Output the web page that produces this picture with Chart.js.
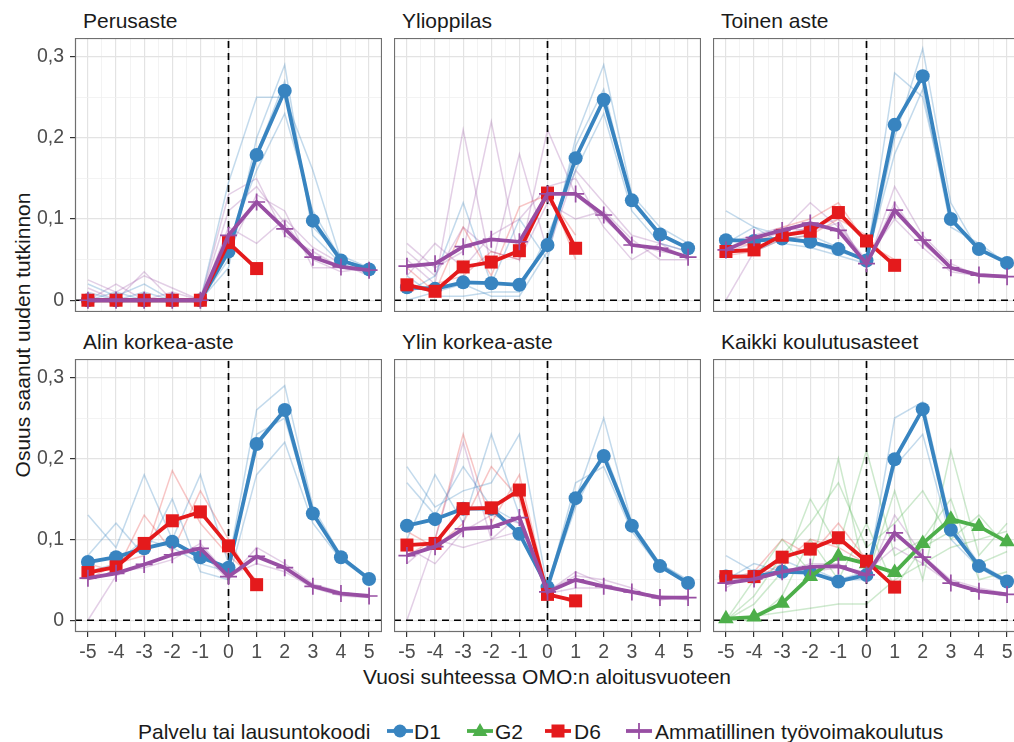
<!DOCTYPE html>
<html>
<head>
<meta charset="utf-8">
<script src="https://cdn.jsdelivr.net/npm/chart.js@4.4.0/dist/chart.umd.min.js"></script>
<style>
body { margin:0; width:1014px; height:742px; overflow:hidden; background:#fff; position:relative;
       font-family:"Liberation Sans", Arial, sans-serif; }
canvas { position:absolute; }
.t { position:absolute; line-height:1; white-space:nowrap; color:#1a1a1a; }
.strip { font-size:21px; }
.leg { font-size:21px; transform:translateY(-50%); }
svg { position:absolute; }
</style>
</head>
<body>
<div class="t strip" style="left:83px;top:10px">Perusaste</div>
<div class="t strip" style="left:402px;top:10px">Ylioppilas</div>
<div class="t strip" style="left:721px;top:10px">Toinen aste</div>
<div class="t strip" style="left:83px;top:331px">Alin korkea-aste</div>
<div class="t strip" style="left:402px;top:331px">Ylin korkea-aste</div>
<div class="t strip" style="left:721px;top:331px">Kaikki koulutusasteet</div>
<div class="t" style="font-size:21px;left:22px;top:335px;transform:translate(-50%,-50%) rotate(-90deg)">Osuus saanut uuden tutkinnon</div>
<div class="t" style="font-size:21px;left:547px;top:676px;transform:translate(-50%,-50%)">Vuosi suhteessa OMO:n aloitusvuoteen</div>

<div class="t leg" style="left:138px;top:731px">Palvelu tai lausuntokoodi</div>
<svg style="left:386px;top:721px" width="28" height="20"><line x1="1" y1="10" x2="27" y2="10" stroke="#3884C0" stroke-width="3.8"/><circle cx="14" cy="10" r="6.5" fill="#3884C0"/></svg>
<div class="t leg" style="left:414px;top:731px">D1</div>
<svg style="left:466px;top:721px" width="28" height="20"><line x1="1" y1="10" x2="27" y2="10" stroke="#4DAF4A" stroke-width="3.8"/><polygon points="14,2 21.5,15 6.5,15" fill="#4DAF4A"/></svg>
<div class="t leg" style="left:495px;top:731px">G2</div>
<svg style="left:544px;top:721px" width="28" height="20"><line x1="1" y1="10" x2="27" y2="10" stroke="#E41A1C" stroke-width="3.8"/><rect x="7.5" y="3.5" width="13" height="13" fill="#E41A1C"/></svg>
<div class="t leg" style="left:574px;top:731px">D6</div>
<svg style="left:625px;top:721px" width="28" height="20"><line x1="1" y1="10" x2="27" y2="10" stroke="#984EA3" stroke-width="3.8"/><line x1="6" y1="10" x2="22" y2="10" stroke="#984EA3" stroke-width="1.8"/><line x1="14" y1="2" x2="14" y2="18" stroke="#984EA3" stroke-width="1.8"/></svg>
<div class="t leg" style="left:655px;top:731px">Ammatillinen työvoimakoulutus</div>

<script>
// vuodet suhteessa aloitusvuoteen
const years = [-5, -4, -3, -2, -1, 0, 1, 2, 3, 4, 5];
const xGrid = [-5, -4.5, -4, -3.5, -3, -2.5, -2, -1.5, -1, -0.5, 0, 0.5, 1, 1.5, 2, 2.5, 3, 3.5, 4, 4.5, 5];
const xMajor = [-5, -4, -3, -2, -1, 0, 1, 2, 3, 4, 5];
const xLabels = ['-5', '-4', '-3', '-2', '-1', '0', '1', '2', '3', '4', '5'];
const yGrid = [0, 0.05, 0.1, 0.15, 0.2, 0.25, 0.3];
const yMajor = [0, 0.1, 0.2, 0.3];
const yLabels = ['0', '0,1', '0,2', '0,3'];

// Perusaste
const perusD1 = [0, 0, 0, 0, 0, 0.060, 0.179, 0.258, 0.098, 0.049, 0.038];
const perusD6 = [0, 0, 0, 0, 0, 0.071, 0.039];
const perusAmm = [0, 0, 0, 0, 0, 0.080, 0.121, 0.088, 0.053, 0.041, 0.037];
const perusD1Faint = [
  [0.02, 0.005, 0.02, 0, 0, 0.145, 0.25, 0.25, 0.16, 0.05, 0.04],
  [0.01, 0, 0.01, 0, 0, 0.04, 0.2, 0.29, 0.08, 0.045, 0.035],
  [0, 0, 0, 0, 0, 0.07, 0.16, 0.23, 0.11, 0.05, 0.04],
  [0, 0.01, 0, 0, 0, 0.05, 0.18, 0.27, 0.09, 0.055, 0.04]
];
const perusAmmFaint = [
  [0.025, 0.01, 0.03, 0.015, 0, 0.13, 0.15, 0.08, 0.06, 0.04, 0.035],
  [0.015, 0, 0.035, 0, 0, 0.09, 0.07, 0.1, 0.065, 0.045, 0.03],
  [0, 0.02, 0, 0.01, 0, 0.11, 0.14, 0.095, 0.05, 0.035, 0.04],
  [0, 0, 0, 0, 0, 0.06, 0.13, 0.11, 0.04, 0.04, 0.035]
];

// Ylioppilas
const yliopD1 = [0.016, 0.014, 0.022, 0.021, 0.019, 0.068, 0.175, 0.247, 0.123, 0.081, 0.064];
const yliopD6 = [0.019, 0.011, 0.041, 0.047, 0.061, 0.132, 0.064];
const yliopAmm = [0.042, 0.045, 0.066, 0.075, 0.072, 0.131, 0.131, 0.105, 0.068, 0.064, 0.053];
const yliopD1Faint = [
  [0.01, 0.03, 0.12, 0.02, 0.1, 0.05, 0.2, 0.29, 0.13, 0.09, 0.07],
  [0.03, 0.005, 0.005, 0.01, 0.01, 0.08, 0.16, 0.23, 0.11, 0.07, 0.06],
  [0, 0.01, 0.02, 0.005, 0.005, 0.06, 0.19, 0.26, 0.12, 0.08, 0.065]
];
const yliopD6Faint = [
  [0.04, 0.01, 0.09, 0.03, 0.115, 0.13, 0.08],
  [0.01, 0.02, 0.03, 0.06, 0.05, 0.14, 0.05]
];
const yliopAmmFaint = [
  [0.05, 0.02, 0.21, 0.04, 0.18, 0.06, 0.16, 0.12, 0.08, 0.07, 0.05],
  [0.07, 0.04, 0.06, 0.22, 0.05, 0.21, 0.13, 0.1, 0.07, 0.06, 0.055],
  [0.03, 0.07, 0.04, 0.08, 0.1, 0.14, 0.15, 0.09, 0.05, 0.07, 0.06],
  [0.06, 0.03, 0.09, 0.06, 0.05, 0.12, 0.1, 0.11, 0.075, 0.05, 0.05]
];

// Toinen aste
const toinenD1 = [0.074, 0.073, 0.076, 0.072, 0.063, 0.049, 0.216, 0.276, 0.100, 0.063, 0.046];
const toinenD6 = [0.060, 0.062, 0.080, 0.085, 0.108, 0.073, 0.043];
const toinenAmm = [0.062, 0.077, 0.086, 0.095, 0.086, 0.045, 0.111, 0.074, 0.040, 0.031, 0.029];
const toinenD1Faint = [
  [0.11, 0.09, 0.08, 0.07, 0.06, 0.05, 0.28, 0.25, 0.1, 0.065, 0.045],
  [0.07, 0.09, 0.07, 0.065, 0.055, 0.045, 0.2, 0.31, 0.12, 0.06, 0.05],
  [0.06, 0.06, 0.075, 0.08, 0.065, 0.05, 0.18, 0.26, 0.09, 0.07, 0.045]
];
const toinenD6Faint = [
  [0.065, 0.07, 0.09, 0.1, 0.12, 0.07, 0.05],
  [0.055, 0.06, 0.075, 0.08, 0.1, 0.08, 0.04]
];
const toinenAmmFaint = [
  [0, 0.06, 0.08, 0.09, 0.1, 0.04, 0.14, 0.08, 0.045, 0.03, 0.03],
  [0.06, 0.07, 0.085, 0.12, 0.09, 0.05, 0.1, 0.065, 0.035, 0.03, 0.028],
  [0.07, 0.08, 0.09, 0.085, 0.095, 0.045, 0.12, 0.07, 0.04, 0.033, 0.03]
];

// Alin korkea-aste
const alinD1 = [0.072, 0.078, 0.089, 0.097, 0.078, 0.065, 0.218, 0.260, 0.132, 0.078, 0.051];
const alinD6 = [0.059, 0.066, 0.095, 0.123, 0.134, 0.092, 0.044];
const alinAmm = [0.052, 0.058, 0.069, 0.081, 0.089, 0.054, 0.079, 0.065, 0.042, 0.033, 0.030];
const alinD1Faint = [
  [0.13, 0.09, 0.18, 0.1, 0.18, 0.07, 0.26, 0.29, 0.14, 0.08, 0.05],
  [0.08, 0.12, 0.08, 0.15, 0.06, 0.05, 0.18, 0.22, 0.12, 0.075, 0.05],
  [0.06, 0.07, 0.1, 0.09, 0.07, 0.06, 0.23, 0.25, 0.13, 0.08, 0.05]
];
const alinD6Faint = [
  [0.07, 0.06, 0.13, 0.085, 0.16, 0.1, 0.04],
  [0.05, 0.07, 0.08, 0.185, 0.12, 0.08, 0.05]
];
const alinAmmFaint = [
  [0, 0.055, 0.07, 0.08, 0.085, 0.05, 0.09, 0.07, 0.045, 0.035, 0.03],
  [0.05, 0.06, 0.065, 0.075, 0.095, 0.055, 0.07, 0.06, 0.04, 0.03, 0.028]
];

// Ylin korkea-aste
const ylinD1 = [0.117, 0.125, 0.138, 0.138, 0.107, 0.041, 0.151, 0.203, 0.117, 0.067, 0.046];
const ylinD6 = [0.093, 0.095, 0.138, 0.139, 0.161, 0.032, 0.024];
const ylinAmm = [0.080, 0.091, 0.113, 0.115, 0.127, 0.035, 0.050, 0.042, 0.035, 0.028, 0.028];
const ylinD1Faint = [
  [0.19, 0.14, 0.16, 0.17, 0.23, 0.04, 0.15, 0.25, 0.12, 0.07, 0.05],
  [0.17, 0.13, 0.19, 0.14, 0.12, 0.04, 0.17, 0.19, 0.11, 0.065, 0.045],
  [0.1, 0.18, 0.12, 0.23, 0.13, 0.04, 0.14, 0.21, 0.12, 0.07, 0.048]
];
const ylinD6Faint = [
  [0.08, 0.1, 0.23, 0.12, 0.18, 0.035, 0.02],
  [0.11, 0.09, 0.12, 0.19, 0.15, 0.03, 0.025]
];
const ylinAmmFaint = [
  [0, 0.1, 0.22, 0.1, 0.13, 0.035, 0.06, 0.045, 0.035, 0.03, 0.028],
  [0.09, 0.07, 0.11, 0.13, 0.12, 0.033, 0.04, 0.04, 0.035, 0.03, 0.025],
  [0.07, 0.1, 0.09, 0.1, 0.11, 0.036, 0.055, 0.05, 0.04, 0.025, 0.03]
];

// Kaikki koulutusasteet
const kaikkiD1 = [0.054, 0.054, 0.060, 0.059, 0.048, 0.056, 0.199, 0.261, 0.112, 0.067, 0.048];
const kaikkiG2 = [0.002, 0.004, 0.021, 0.054, 0.079, 0.070, 0.059, 0.095, 0.125, 0.116, 0.097];
const kaikkiD6 = [0.054, 0.054, 0.078, 0.088, 0.102, 0.073, 0.041];
const kaikkiAmm = [0.046, 0.051, 0.060, 0.066, 0.067, 0.056, 0.108, 0.078, 0.046, 0.036, 0.032];
const kaikkiD1Faint = [
  [0.08, 0.06, 0.075, 0.06, 0.05, 0.05, 0.25, 0.27, 0.12, 0.07, 0.05],
  [0.05, 0.07, 0.06, 0.065, 0.05, 0.06, 0.19, 0.23, 0.1, 0.065, 0.045]
];
const kaikkiG2Faint = [
  [0, 0.05, 0.1, 0.06, 0.2, 0.05, 0.16, 0.05, 0.21, 0.08, 0.12],
  [0, 0.02, 0.06, 0.15, 0.09, 0.21, 0.08, 0.1, 0.15, 0.05, 0.06],
  [0, 0.005, 0.01, 0.015, 0.02, 0.02, 0.05, 0.07, 0.09, 0.1, 0.11],
  [0, 0.03, 0.08, 0.12, 0.17, 0.09, 0.12, 0.16, 0.1, 0.13, 0.09],
  [0, 0, 0.03, 0.1, 0.05, 0.12, 0.04, 0.09, 0.11, 0.07, 0.085]
];
const kaikkiD6Faint = [
  [0.05, 0.06, 0.1, 0.08, 0.12, 0.075, 0.04],
  [0.045, 0.05, 0.07, 0.1, 0.09, 0.07, 0.045]
];
const kaikkiAmmFaint = [
  [0.04, 0.06, 0.06, 0.07, 0.07, 0.05, 0.13, 0.08, 0.05, 0.04, 0.033],
  [0.05, 0.05, 0.065, 0.06, 0.065, 0.06, 0.09, 0.07, 0.045, 0.035, 0.03]
];

const blue = '#3884C0', green = '#4DAF4A', red = '#E41A1C', purple = '#984EA3';
const faint = {
  d1: 'rgba(56,132,192,0.3)', g2: 'rgba(77,175,74,0.28)',
  d6: 'rgba(228,26,28,0.25)', amm: 'rgba(152,78,163,0.27)'
};

const panels = [
  { d1: perusD1, d6: perusD6, amm: perusAmm, f: { d1: perusD1Faint, amm: perusAmmFaint } },
  { d1: yliopD1, d6: yliopD6, amm: yliopAmm, f: { d1: yliopD1Faint, d6: yliopD6Faint, amm: yliopAmmFaint } },
  { d1: toinenD1, d6: toinenD6, amm: toinenAmm, f: { d1: toinenD1Faint, d6: toinenD6Faint, amm: toinenAmmFaint } },
  { d1: alinD1, d6: alinD6, amm: alinAmm, f: { d1: alinD1Faint, d6: alinD6Faint, amm: alinAmmFaint } },
  { d1: ylinD1, d6: ylinD6, amm: ylinAmm, f: { d1: ylinD1Faint, d6: ylinD6Faint, amm: ylinAmmFaint } },
  { d1: kaikkiD1, g2: kaikkiG2, d6: kaikkiD6, amm: kaikkiAmm,
    f: { g2: kaikkiG2Faint, d1: kaikkiD1Faint, d6: kaikkiD6Faint, amm: kaikkiAmmFaint } }
];

const X_MIN = -5.46, X_MAX = 5.46, Y_MIN = -0.0145, Y_MAX = 0.323;
const colLeft = [75, 394, 713], plotW = 307;
const rowTop = [38, 359], plotH = [274, 273];

Chart.defaults.font.family = '"Liberation Sans", Arial, sans-serif';

const pts = vals => vals.map((v, i) => ({ x: years[i], y: v }));

const gridCol = (c, major) => (c.tick && major.includes(c.tick.value)) ? '#e3e3e3' : '#f0f0f0';
const gridW = (c, major) => (c.tick && major.includes(c.tick.value)) ? 1.2 : 0.8;
const tickCol = (c, major) => (c.tick && major.includes(c.tick.value)) ? '#333333' : 'rgba(0,0,0,0)';
const noPad = s => { s.paddingTop = 0; s.paddingBottom = 0; s.paddingLeft = 0; s.paddingRight = 0; };

// paneelin reunus
const panelBorder = {
  id: 'panelBorder',
  afterDraw(chart) {
    const a = chart.chartArea, ctx = chart.ctx;
    ctx.save();
    ctx.strokeStyle = '#6f6f6f';
    ctx.lineWidth = 1.2;
    ctx.strokeRect(a.left + 0.5, a.top + 0.5, a.right - a.left - 1, a.bottom - a.top - 1);
    ctx.restore();
  }
};

panels.forEach((p, k) => {
  const col = k % 3, row = Math.floor(k / 3);
  const showY = col === 0, showX = row === 1;
  const yW = showY ? colLeft[0] : 0, xH = showX ? 44 : 0;
  const cv = document.createElement('canvas');
  cv.width = yW + plotW;
  cv.height = plotH[row] + xH;
  cv.style.left = (colLeft[col] - yW) + 'px';
  cv.style.top = rowTop[row] + 'px';
  document.body.appendChild(cv);

  const ds = [];
  // ohuet taustaviivat
  ['g2', 'd1', 'd6', 'amm'].forEach(key => {
    (p.f[key] || []).forEach(l => ds.push({
      data: pts(l), borderColor: faint[key], borderWidth: 1.5, pointRadius: 0, order: 10
    }));
  });
  // katkoviivat nollakohdissa
  ds.push({ data: [{ x: X_MIN, y: 0 }, { x: X_MAX, y: 0 }], borderColor: '#000', borderWidth: 1.7,
            borderDash: [7, 5], pointRadius: 0, order: 5 });
  ds.push({ data: [{ x: 0, y: Y_MIN }, { x: 0, y: Y_MAX }], borderColor: '#000', borderWidth: 1.7,
            borderDash: [7, 5], pointRadius: 0, order: 5 });
  // varsinaiset sarjat
  ds.push({ label: 'D1', data: pts(p.d1), borderColor: blue, backgroundColor: blue, borderWidth: 3.8,
            pointStyle: 'circle', pointRadius: 7, pointBorderWidth: 0, order: 4 });
  if (p.g2) ds.push({ label: 'G2', data: pts(p.g2), borderColor: green, backgroundColor: green, borderWidth: 3.8,
            pointStyle: 'triangle', pointRadius: 9, pointBorderWidth: 0, order: 3 });
  ds.push({ label: 'D6', data: pts(p.d6), borderColor: red, backgroundColor: red, borderWidth: 3.8,
            pointStyle: 'rect', pointRadius: 9.2, pointBorderWidth: 0, order: 2 });
  ds.push({ label: 'Ammatillinen työvoimakoulutus', data: pts(p.amm), borderColor: purple, backgroundColor: purple,
            borderWidth: 3.8, pointStyle: 'cross', pointRadius: 8.5, pointBorderWidth: 1.7, pointBorderColor: purple, order: 1 });

  new Chart(cv, {
    type: 'line',
    data: { datasets: ds },
    options: {
      responsive: false,
      animation: false,
      layout: { padding: 0, autoPadding: false },
      elements: { line: { tension: 0 } },
      plugins: { legend: { display: false }, tooltip: { enabled: false } },
      scales: {
        x: {
          type: 'linear', min: X_MIN, max: X_MAX,
          afterBuildTicks: s => { s.ticks = xGrid.map(v => ({ value: v })); },
          afterFit: s => { s.height = xH; noPad(s); },
          border: { display: false },
          grid: { color: c => gridCol(c, xMajor), lineWidth: c => gridW(c, xMajor),
                  drawTicks: showX, tickLength: 5, tickWidth: 1.2, tickColor: c => tickCol(c, xMajor) },
          ticks: { display: showX, autoSkip: false, maxRotation: 0, padding: 4, color: '#4d4d4d',
                   font: { size: 19.5 },
                   callback: v => { const i = xMajor.indexOf(v); return i < 0 ? '' : xLabels[i]; } }
        },
        y: {
          type: 'linear', min: Y_MIN, max: Y_MAX,
          afterBuildTicks: s => { s.ticks = yGrid.map(v => ({ value: v })); },
          afterFit: s => { s.width = yW; noPad(s); },
          border: { display: false },
          grid: { color: c => gridCol(c, yMajor), lineWidth: c => gridW(c, yMajor),
                  drawTicks: showY, tickLength: 5, tickWidth: 1.2, tickColor: c => tickCol(c, yMajor) },
          ticks: { display: showY, autoSkip: false, padding: 6, color: '#4d4d4d',
                   font: { size: 19.5 },
                   callback: v => { const i = yMajor.indexOf(v); return i < 0 ? '' : yLabels[i]; } }
        }
      }
    },
    plugins: [panelBorder]
  });
});
</script>
</body>
</html>
